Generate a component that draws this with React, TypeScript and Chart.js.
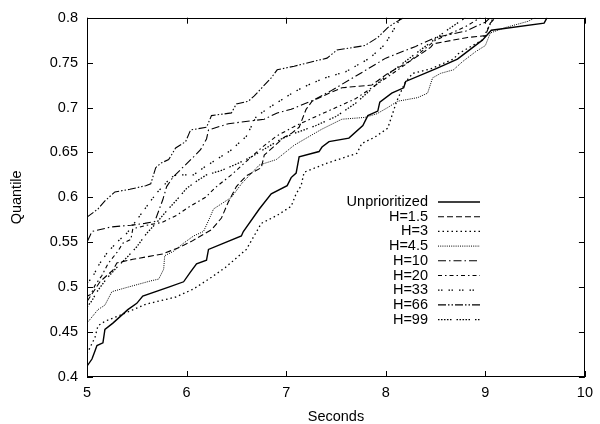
import React, { useEffect, useRef } from 'react';
import { Chart, registerables } from 'chart.js';

Chart.register(...registerables);

// ---- data ----
const xTickValues = [5, 6, 7, 8, 9, 10];
const yTickValues = [0.4, 0.45, 0.5, 0.55, 0.6, 0.65, 0.7, 0.75, 0.8];
const seriesLabels = ['Unprioritized', 'H=1.5', 'H=3', 'H=4.5', 'H=10', 'H=20', 'H=33', 'H=66', 'H=99'];

const unprioritizedX = [5.0, 5.05, 5.08, 5.1, 5.16, 5.18, 5.26, 5.41, 5.5, 5.56, 5.82, 5.97, 6.04, 6.1, 6.2, 6.22, 6.55, 6.57, 6.73, 6.85, 7.01, 7.05, 7.1, 7.13, 7.33, 7.36, 7.43, 7.63, 7.77, 7.82, 7.92, 7.94, 8.06, 8.18, 8.2, 8.5, 8.72, 8.97, 9.06, 9.59, 9.62];
const unprioritizedY = [0.412, 0.42, 0.429, 0.435, 0.438, 0.453, 0.46, 0.475, 0.482, 0.49, 0.5, 0.506, 0.517, 0.526, 0.53, 0.542, 0.557, 0.562, 0.587, 0.604, 0.613, 0.622, 0.627, 0.645, 0.651, 0.656, 0.662, 0.666, 0.68, 0.691, 0.696, 0.706, 0.716, 0.722, 0.729, 0.743, 0.754, 0.775, 0.786, 0.794, 0.8];

const h15X = [5.0, 5.13, 5.26, 5.3, 5.46, 5.76, 5.92, 6.05, 6.25, 6.35, 6.42, 6.5, 6.6, 6.75, 6.78, 6.87, 6.98, 7.05, 7.13, 7.2, 7.26, 7.43, 7.56, 7.86, 8.02, 8.25, 8.45, 8.48, 8.82, 9.0, 9.05, 9.1];
const h15Y = [0.484, 0.506, 0.519, 0.527, 0.531, 0.537, 0.544, 0.551, 0.564, 0.577, 0.595, 0.612, 0.624, 0.633, 0.647, 0.656, 0.667, 0.671, 0.678, 0.698, 0.707, 0.716, 0.722, 0.725, 0.738, 0.752, 0.767, 0.771, 0.778, 0.78, 0.794, 0.8];

const h3X = [5.0, 5.08, 5.11, 5.18, 5.36, 5.59, 5.89, 6.07, 6.25, 6.39, 6.6, 6.75, 6.91, 7.05, 7.1, 7.15, 7.18, 7.41, 7.71, 7.76, 7.89, 8.02, 8.11, 8.19, 8.27, 8.45, 8.68, 8.73, 8.87, 8.97, 9.03, 9.08];
const h3Y = [0.426, 0.444, 0.457, 0.462, 0.47, 0.481, 0.489, 0.498, 0.511, 0.522, 0.542, 0.571, 0.58, 0.59, 0.604, 0.613, 0.628, 0.638, 0.649, 0.66, 0.667, 0.677, 0.707, 0.727, 0.738, 0.743, 0.754, 0.76, 0.769, 0.775, 0.789, 0.8];

const h45X = [5.0, 5.11, 5.18, 5.25, 5.41, 5.64, 5.72, 5.77, 5.78, 5.87, 5.97, 6.07, 6.17, 6.24, 6.27, 6.45, 6.55, 6.73, 6.9, 7.08, 7.25, 7.36, 7.56, 7.79, 7.91, 8.02, 8.12, 8.32, 8.42, 8.47, 8.55, 8.68, 8.77, 8.9, 9.0, 9.05, 9.2, 9.43, 9.5];
const h45Y = [0.46, 0.475, 0.48, 0.495, 0.5, 0.507, 0.509, 0.52, 0.535, 0.54, 0.549, 0.557, 0.562, 0.579, 0.587, 0.6, 0.615, 0.636, 0.642, 0.658, 0.669, 0.676, 0.687, 0.689, 0.693, 0.7, 0.707, 0.711, 0.716, 0.733, 0.738, 0.742, 0.751, 0.762, 0.769, 0.783, 0.789, 0.796, 0.8];

const h10X = [5.0, 5.0, 5.05, 5.24, 5.44, 5.58, 5.68, 5.76, 5.8, 5.86, 5.95, 6.07, 6.14, 6.2, 6.22, 6.42, 6.78, 6.91, 7.05, 7.25, 7.44, 7.7, 8.0, 8.3, 8.5, 8.8, 9.0, 9.05];
const h10Y = [0.5, 0.55, 0.562, 0.567, 0.569, 0.571, 0.573, 0.597, 0.612, 0.622, 0.632, 0.645, 0.653, 0.665, 0.675, 0.682, 0.687, 0.694, 0.698, 0.707, 0.718, 0.735, 0.755, 0.768, 0.778, 0.785, 0.795, 0.8];

const h20X = [5.0, 5.04, 5.08, 5.15, 5.21, 5.31, 5.36, 5.44, 5.46, 5.6, 5.75, 5.9, 6.02, 6.19, 6.29, 6.45, 6.6, 6.75, 6.9, 7.1, 7.3, 7.5, 7.7, 7.9, 8.2, 8.5, 8.8, 8.95];
const h20Y = [0.49, 0.492, 0.502, 0.513, 0.526, 0.54, 0.549, 0.553, 0.565, 0.569, 0.572, 0.58, 0.589, 0.6, 0.611, 0.625, 0.64, 0.655, 0.668, 0.68, 0.69, 0.7, 0.71, 0.725, 0.748, 0.775, 0.79, 0.8];

const h33X = [5.0, 5.05, 5.12, 5.2, 5.3, 5.4, 5.5, 5.6, 5.7, 5.77, 5.84, 5.9, 6.07, 6.17, 6.27, 6.44, 6.6, 6.7, 6.83, 6.96, 7.06, 7.16, 7.26, 7.39, 7.6, 7.84, 7.99, 8.07, 8.15];
const h33Y = [0.505, 0.51, 0.525, 0.538, 0.55, 0.56, 0.575, 0.59, 0.605, 0.613, 0.622, 0.625, 0.625, 0.633, 0.64, 0.652, 0.668, 0.69, 0.7, 0.709, 0.716, 0.722, 0.727, 0.733, 0.74, 0.755, 0.77, 0.785, 0.8];

const h66X = [5.0, 5.11, 5.18, 5.28, 5.43, 5.59, 5.64, 5.69, 5.74, 5.82, 5.89, 5.99, 6.04, 6.2, 6.25, 6.45, 6.5, 6.62, 6.68, 6.85, 6.91, 7.08, 7.41, 7.51, 7.79, 7.92, 8.02, 8.1, 8.18];
const h66Y = [0.578, 0.587, 0.596, 0.606, 0.609, 0.613, 0.615, 0.633, 0.638, 0.642, 0.655, 0.662, 0.675, 0.678, 0.691, 0.694, 0.704, 0.707, 0.713, 0.733, 0.742, 0.746, 0.755, 0.764, 0.769, 0.778, 0.789, 0.795, 0.8];

const h99X = [5.0, 5.05, 5.1, 5.2, 5.3, 5.4, 5.5, 5.6, 5.7, 5.8, 5.9, 6.0, 6.1, 6.2, 6.35, 6.5, 6.65, 6.8, 6.95, 7.1, 7.3, 7.5, 7.7, 8.0, 8.3, 8.6, 8.8];
const h99Y = [0.478, 0.485, 0.495, 0.51, 0.522, 0.533, 0.545, 0.56, 0.572, 0.585, 0.597, 0.61, 0.618, 0.625, 0.63, 0.637, 0.645, 0.655, 0.665, 0.672, 0.68, 0.69, 0.705, 0.735, 0.76, 0.785, 0.8];

const seriesX = [unprioritizedX, h15X, h3X, h45X, h10X, h20X, h33X, h66X, h99X];
const seriesY = [unprioritizedY, h15Y, h3Y, h45Y, h10Y, h20Y, h33Y, h66Y, h99Y];

// ---- styles ----
const dashes: number[][] = [
  [],
  [6, 3],
  [1.5, 3],
  [1, 1.2],
  [8, 3, 1.5, 3],
  [4, 3, 1.5, 3],
  [1.5, 1.5, 1.5, 6],
  [8, 2, 1.5, 2, 1.5, 2],
  [1.5, 1.5, 1.5, 1.5, 1.5, 1.5, 1.5, 1.5, 1.5, 5],
];
const widths = [1.4, 1.1, 1.3, 1.0, 1.1, 1.1, 1.3, 1.1, 1.3];

const FONT = "'Liberation Sans', Arial, Helvetica, sans-serif";
const FSIZE = 14.5;

const framePlugin = {
  id: 'gnuFrame',
  afterDatasetsDraw(chart: any) {
    const ctx = chart.ctx;
    const { left, right, top, bottom } = chart.chartArea;
    const xs = chart.scales.x;
    const ys = chart.scales.y;
    ctx.save();
    ctx.strokeStyle = '#000';
    ctx.lineWidth = 1;
    ctx.setLineDash([]);
    ctx.strokeRect(Math.round(left) + 0.5, Math.round(top) + 0.5, Math.round(right - left) - 1, Math.round(bottom - top) - 1);
    ctx.beginPath();
    xTickValues.forEach((v) => {
      const px = Math.round(xs.getPixelForValue(v)) + 0.5;
      ctx.moveTo(px, bottom);
      ctx.lineTo(px, bottom - 6);
      ctx.moveTo(px, top);
      ctx.lineTo(px, top + 6);
    });
    yTickValues.forEach((v) => {
      const py = Math.round(ys.getPixelForValue(v)) + 0.5;
      ctx.moveTo(left, py);
      ctx.lineTo(left + 6, py);
      ctx.moveTo(right, py);
      ctx.lineTo(right - 6, py);
    });
    ctx.stroke();

    // key
    ctx.font = `${FSIZE}px ${FONT}`;
    ctx.fillStyle = '#000';
    ctx.textAlign = 'right';
    ctx.textBaseline = 'middle';
    seriesLabels.forEach((lab, i) => {
      const yy = 202 + i * 14.7;
      ctx.fillText(lab, 428, yy);
      ctx.beginPath();
      ctx.setLineDash(dashes[i]);
      ctx.lineWidth = widths[i];
      ctx.moveTo(438, yy);
      ctx.lineTo(480, yy);
      ctx.stroke();
    });
    ctx.restore();
  },
};

export default function App() {
  const ref = useRef<HTMLCanvasElement>(null);
  useEffect(() => {
    document.body.style.margin = '0';
    const datasets = seriesLabels.map((lab, i) => ({
      label: lab,
      data: seriesX[i].map((x, j) => ({ x, y: seriesY[i][j] })),
      borderColor: '#000',
      backgroundColor: '#000',
      borderWidth: widths[i],
      borderDash: dashes[i],
      pointRadius: 0,
      showLine: true,
      fill: false,
      tension: 0,
      borderCapStyle: 'butt',
    }));
    const chart = new Chart(ref.current!, {
      type: 'scatter',
      data: { datasets } as any,
      options: {
        animation: false,
        responsive: false,
        devicePixelRatio: 1,
        layout: { padding: { top: 10, right: 9, left: 0, bottom: 0 } },
        plugins: { legend: { display: false }, tooltip: { enabled: false } },
        scales: {
          x: {
            type: 'linear',
            min: 5,
            max: 10,
            afterBuildTicks: (s: any) => { s.ticks = xTickValues.map((v) => ({ value: v })); },
            afterFit: (s: any) => { s.height = 47; },
            grid: { display: false, drawTicks: false },
            border: { display: false },
            ticks: { color: '#000', padding: 7, font: { family: FONT, size: FSIZE }, callback: (v: any) => String(v) },
            title: { display: true, text: 'Seconds', color: '#000', padding: { top: 0, bottom: 0 }, font: { family: FONT, size: FSIZE, lineHeight: 1.0 } },
          },
          y: {
            type: 'linear',
            min: 0.4,
            max: 0.8,
            afterBuildTicks: (s: any) => { s.ticks = yTickValues.map((v) => ({ value: v })); },
            afterFit: (s: any) => { s.width = 87; },
            grid: { display: false, drawTicks: false },
            border: { display: false },
            ticks: { color: '#000', padding: 9, font: { family: FONT, size: FSIZE }, callback: (v: any) => String(Math.round(v * 100) / 100) },
            title: { display: true, text: 'Quantile', color: '#000', padding: { top: 8, bottom: 0 }, font: { family: FONT, size: FSIZE } },
          },
        },
      },
      plugins: [framePlugin],
    } as any);
    return () => chart.destroy();
  }, []);
  return (
    <div style={{ position: 'absolute', left: 0, top: 0, width: 600, height: 424, background: '#fff' }}>
      <canvas ref={ref} width={600} height={424} style={{ width: 600, height: 424, display: 'block' }} />
    </div>
  );
}
